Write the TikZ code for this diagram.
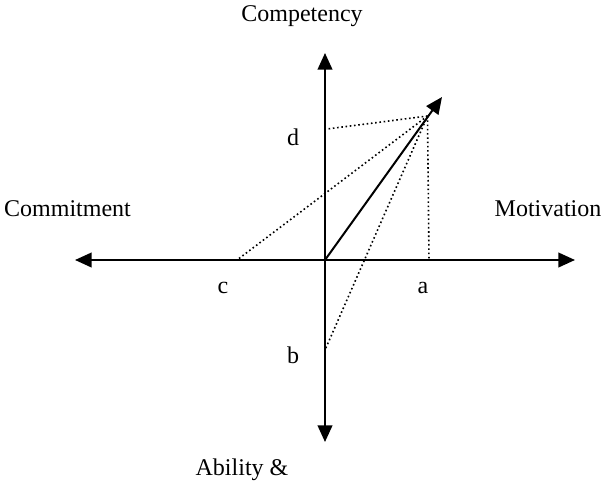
\documentclass[tikz,border=0pt]{standalone}
\usepackage{fontspec}
\setmainfont{Liberation Serif}
\usetikzlibrary{arrows.meta}
\begin{document}
\begin{tikzpicture}[
        x=0.75pt, y=-0.75pt,
        every node/.style={font=\fontsize{18}{20}\selectfont, inner sep=0pt},
        eixo/.style={-{Triangle[length=12.5pt, width=11pt]}, line width=1.5pt},
        vetor/.style={-{Triangle[length=12.5pt, width=11pt]}, line width=1.5pt},
        proj/.style={dotted, line width=1.2pt},
        rotulo/.style={anchor=base}
    ]
        \useasboundingbox (0,0) rectangle (604,482);

        % pontos do diagrama
        \coordinate (O) at (325,260);
        \coordinate (topo) at (325,53);
        \coordinate (base) at (325,442);
        \coordinate (esq) at (75,260);
        \coordinate (dir) at (575,260);
        \coordinate (ponta) at (442,97);
        \coordinate (P) at (427.5,116);
        \coordinate (pd) at (327,129);
        \coordinate (pc) at (237,260);
        \coordinate (pa) at (429,260);
        \coordinate (pb) at (325,350);

        % Eixos
        \draw[eixo] (O) -- (topo);
        \draw[eixo] (O) -- (base);
        \draw[eixo] (O) -- (esq);
        \draw[eixo] (O) -- (dir);

        % Vetor resultante
        \draw[vetor] (O) -- (ponta);

        % Projecoes
        \draw[proj] (P) -- (pd);
        \draw[proj] (P) -- (pc);
        \draw[proj] (P) -- (pa);
        \draw[proj] (P) -- (pb);

        % Rotulos dos eixos
        \node[rotulo] (competency) at (302,21) {Competency};
        \node[rotulo] (commitment) at (67.5,216) {Commitment};
        \node[rotulo] (motivation) at (548,216) {Motivation};
        \node[rotulo] (ability) at (242,475) {Ability \&};

        % Rotulos dos pontos
        \node[rotulo] (ld) at (293,145) {d};
        \node[rotulo] (lc) at (223,293) {c};
        \node[rotulo] (la) at (423,293) {a};
        \node[rotulo] (lb) at (293,363) {b};

    \end{tikzpicture}
\end{document}
